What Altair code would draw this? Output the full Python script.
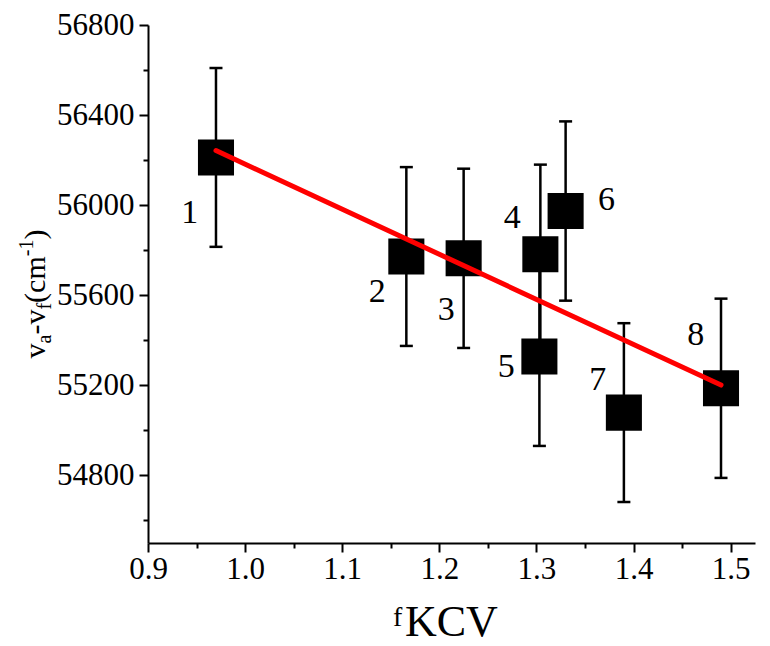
import altair as alt
import pandas as pd

# ---- data ----
sample_ids = ["1", "2", "3", "4", "5", "6", "7", "8"]
f_kcv = [0.970, 1.166, 1.225, 1.304, 1.303, 1.330, 1.390, 1.490]
va_vf = [56212, 55772, 55764, 55782, 55328, 55974, 55079, 55187]
err = [397, 397, 398, 398, 397, 398, 397, 398]
label_x = [0.943, 1.136, 1.207, 1.275, 1.269, 1.372, 1.363, 1.464]
label_y = [55964, 55616, 55535, 55942, 55283, 56023, 55224, 55424]

x_major = [0.9, 1.0, 1.1, 1.2, 1.3, 1.4, 1.5]
x_minor = [0.95, 1.05, 1.15, 1.25, 1.35, 1.45]
y_major = [54800, 55200, 55600, 56000, 56400, 56800]
y_minor = [54600, 55000, 55400, 55800, 56200, 56600]
x_domain = [0.9, 1.525]
y_domain = [54500, 56800]

FONT = "Liberation Serif"
TICK_FS = 31
W, H = 607, 518
LEFT, TOP = 148, 25

df = pd.DataFrame({"id": sample_ids, "x": f_kcv, "y": va_vf, "e": err})
df["lo"] = df["y"] - df["e"]
df["hi"] = df["y"] + df["e"]
lab = pd.DataFrame({"t": sample_ids, "lx": label_x, "ly": label_y})

xs = alt.Scale(domain=x_domain, nice=False, zero=False)
ys = alt.Scale(domain=y_domain, nice=False, zero=False)

ax_common = dict(domainColor="black", domainWidth=2, tickColor="black", tickWidth=2,
                 labelFont=FONT, labelFontSize=TICK_FS, labelColor="black",
                 labelFontWeight="normal", labelFlush=False, labelOverlap=False,
                 grid=False, title=None)

x_axis = alt.Axis(values=x_major, format=".1f", tickSize=9, labelPadding=2, orient="bottom", **ax_common)
y_axis = alt.Axis(values=y_major, format="d", tickSize=9, labelPadding=5, orient="left", **ax_common)
x_axis_minor = alt.Axis(values=x_minor, tickSize=5, labels=False, domain=False, orient="bottom",
                        tickColor="black", tickWidth=2, grid=False, title=None)
y_axis_minor = alt.Axis(values=y_minor, tickSize=5, labels=False, domain=False, orient="left",
                        tickColor="black", tickWidth=2, grid=False, title=None)

base = alt.Chart(df)

# layer that carries the major axes
err_rule = base.mark_rule(color="black", strokeWidth=2.5).encode(
    x=alt.X("x:Q", scale=xs, axis=x_axis),
    y=alt.Y("lo:Q", scale=ys, axis=y_axis),
    y2="hi:Q",
)
# layer that carries the minor ticks
minor = base.mark_point(opacity=0).encode(
    x=alt.X("x:Q", scale=xs, axis=x_axis_minor),
    y=alt.Y("y:Q", scale=ys, axis=y_axis_minor),
)

cap_lo = base.mark_tick(color="black", orient="horizontal", size=13, thickness=2.5, opacity=1).encode(
    x=alt.X("x:Q", scale=xs, axis=None),
    y=alt.Y("lo:Q", scale=ys, axis=None),
)
cap_hi = base.mark_tick(color="black", orient="horizontal", size=13, thickness=2.5, opacity=1).encode(
    x=alt.X("x:Q", scale=xs, axis=None),
    y=alt.Y("hi:Q", scale=ys, axis=None),
)

squares = base.mark_square(size=1300, color="black", opacity=1).encode(
    x=alt.X("x:Q", scale=xs, axis=None),
    y=alt.Y("y:Q", scale=ys, axis=None),
)

fit = base.transform_regression("x", "y").mark_line(
    color="#ff0000", strokeWidth=5, strokeCap="round"
).encode(
    x=alt.X("x:Q", scale=xs, axis=None),
    y=alt.Y("y:Q", scale=ys, axis=None),
)

labels = alt.Chart(lab).mark_text(font=FONT, fontSize=34, color="black").encode(
    x=alt.X("lx:Q", scale=xs, axis=None),
    y=alt.Y("ly:Q", scale=ys, axis=None),
    text="t:N",
)

one = alt.Data(values=[{"k": 0}])

# x-axis title: "f" then larger "KCV"
xt_f = alt.Chart(one).mark_text(text="f", font=FONT, fontSize=28, color="black",
                                align="left", baseline="alphabetic").encode(
    x=alt.value(393 - LEFT), y=alt.value(626 - TOP))
xt_kcv = alt.Chart(one).mark_text(text="KCV", font=FONT, fontSize=44, color="black",
                                  align="left", baseline="alphabetic").encode(
    x=alt.value(405 - LEFT), y=alt.value(636 - TOP))

# y-axis title: v_a-v_f(cm^-1), rotated, built from pieces
adv = {"v": 500, "a": 444, "-": 333, "f": 333, "(": 333, "c": 444, "m": 778, "1": 500, ")": 333}
F, S = 30, 20
pieces = [("v", F, 0), ("a", S, 6), ("-v", F, 0), ("f", S, 6), ("(cm", F, 0), ("-1", S, -12), (")", F, 0)]
total = sum(sum(adv[c] for c in s) * fs / 1000 for s, fs, _ in pieces)
center_y = 294
base_x = 45
cur = center_y + total / 2
ytitle_layers = []
for s, fs, shift in pieces:
    ytitle_layers.append(
        alt.Chart(one).mark_text(text=s, font=FONT, fontSize=fs, color="black", angle=270,
                                 align="left", baseline="alphabetic").encode(
            x=alt.value(base_x + shift - LEFT), y=alt.value(cur - TOP))
    )
    cur -= sum(adv[c] for c in s) * fs / 1000

chart = alt.layer(
    err_rule, minor, cap_lo, cap_hi, squares, fit, labels, xt_f, xt_kcv, *ytitle_layers
).resolve_axis(x="independent", y="independent").properties(
    width=W, height=H,
    autosize=alt.AutoSizeParams(type="none"),
    padding={"left": LEFT, "top": TOP, "right": 770 - LEFT - W, "bottom": 646 - TOP - H},
).configure_view(stroke=None).configure_axis(
    grid=False, labelFont=FONT, labelFontSize=TICK_FS, labelColor="black", labelFontWeight="normal"
)

chart.save("out.html", embed_options={"renderer": "svg", "actions": False})
